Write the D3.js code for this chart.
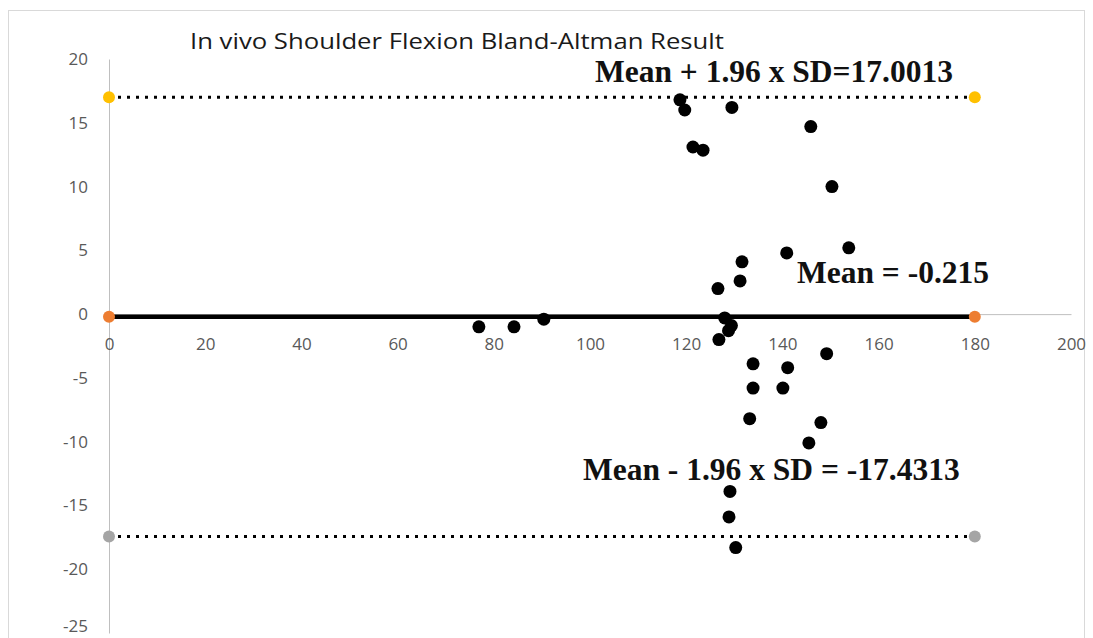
<!DOCTYPE html>
<html>
<head>
<meta charset="utf-8">
<script src="https://cdn.jsdelivr.net/npm/d3@7"></script>
<style>
  body { margin: 0; background: #fff; }
  svg { display: block; }
</style>
</head>
<body>
<div id="container"></div>
<script>
// data
const xValues = [118.7, 119.7, 129.5, 145.9, 121.4, 123.5, 150.3, 153.8, 140.9, 131.6, 131.2, 126.6,
                 128.0, 129.4, 128.8, 126.8, 76.9, 84.2, 90.4,
                 149.2, 133.9, 141.1, 133.9, 140.1, 133.2, 148.0, 145.5, 129.1, 128.9, 130.3];
const yValues = [16.8, 16.0, 16.2, 14.7, 13.1, 12.85, 10.0, 5.2, 4.8, 4.1, 2.6, 2.0,
                 -0.3, -0.9, -1.3, -2.0, -1.0, -1.0, -0.4,
                 -3.1, -3.9, -4.2, -5.8, -5.8, -8.2, -8.5, -10.1, -13.9, -15.9, -18.3];
const meanValue = -0.215;
const upperLimit = 17.0013;
const lowerLimit = -17.4313;
const lineEnds = [0, 180];
const xTicks = [0, 20, 40, 60, 80, 100, 120, 140, 160, 180, 200];
const yTicks = [20, 15, 10, 5, 0, -5, -10, -15, -20, -25];

const width = 1093, height = 638;

const svg = d3.select('#container')
  .append('svg')
  .attr('width', width)
  .attr('height', height);

// chart frame
svg.append('rect')
  .attr('x', 8.5).attr('y', 10.5)
  .attr('width', 1076).attr('height', 640)
  .attr('fill', 'none')
  .attr('stroke', '#d9d9d9');

const x = d3.scaleLinear().domain([0, 200]).range([109, 1071]);
const y = d3.scaleLinear().domain([-25, 20]).range([633, 59]);

// y axis
const yAxis = svg.append('g')
  .attr('transform', `translate(${x(0)},0)`)
  .call(d3.axisLeft(y).tickValues(yTicks).tickFormat(d => String(d)).tickSize(0).tickPadding(21));
yAxis.select('.domain').attr('stroke', '#bfbfbf');
yAxis.selectAll('text')
  .attr('fill', '#595959')
  .style('font-family', 'Open Sans, sans-serif')
  .style('font-size', '17px');
// bottom label sits on the edge, pull it up a bit
yAxis.selectAll('.tick')
  .filter(d => d === -25)
  .select('text')
  .attr('dy', '-0.1em');

// x axis at y = 0
const xAxis = svg.append('g')
  .attr('transform', `translate(0,${y(0)})`)
  .call(d3.axisBottom(x).tickValues(xTicks).tickFormat(d => String(d)).tickSize(0).tickPadding(24));
xAxis.select('.domain').attr('stroke', '#bfbfbf');
xAxis.selectAll('text')
  .attr('fill', '#595959')
  .style('font-family', 'Open Sans, sans-serif')
  .style('font-size', '17px');

// limit lines
const refLines = [
  {v: upperLimit, color: '#ffc000', dotted: true},
  {v: meanValue, color: '#ed7d31', dotted: false},
  {v: lowerLimit, color: '#a5a5a5', dotted: true}
];

refLines.forEach(r => {
  svg.append('line')
    .attr('x1', x(lineEnds[0])).attr('x2', x(lineEnds[1]))
    .attr('y1', y(r.v)).attr('y2', y(r.v))
    .attr('stroke', '#000')
    .attr('stroke-width', r.dotted ? 3 : 4.5)
    .attr('stroke-dasharray', r.dotted ? '3,6' : null);
  svg.selectAll(null)
    .data(lineEnds)
    .enter()
    .append('circle')
    .attr('cx', d => x(d))
    .attr('cy', y(r.v))
    .attr('r', 6)
    .attr('fill', r.color);
});

// scatter points
svg.append('g')
  .selectAll('circle')
  .data(xValues.map((d, i) => [d, yValues[i]]))
  .enter()
  .append('circle')
  .attr('cx', d => x(d[0]))
  .attr('cy', d => y(d[1]))
  .attr('r', 6.5)
  .attr('fill', '#000');

// title
svg.append('text')
  .attr('x', 190).attr('y', 49)
  .attr('fill', '#1a1a1a')
  .attr('textLength', 534)
  .attr('lengthAdjust', 'spacingAndGlyphs')
  .style('font-family', 'Open Sans, sans-serif')
  .style('font-size', '22px')
  .text('In vivo Shoulder Flexion Bland-Altman Result');

// annotations
const notes = [
  {t: 'Mean + 1.96 x SD=17.0013', x: 595, y: 82},
  {t: 'Mean = -0.215', x: 797, y: 283},
  {t: 'Mean - 1.96 x SD = -17.4313', x: 583, y: 480}
];
svg.selectAll('.note')
  .data(notes)
  .enter()
  .append('text')
  .attr('class', 'note')
  .attr('x', d => d.x)
  .attr('y', d => d.y)
  .attr('fill', '#111')
  .style('font-family', 'Liberation Serif, serif')
  .style('font-weight', 'bold')
  .style('font-size', '31.5px')
  .text(d => d.t);
</script>
</body>
</html>
